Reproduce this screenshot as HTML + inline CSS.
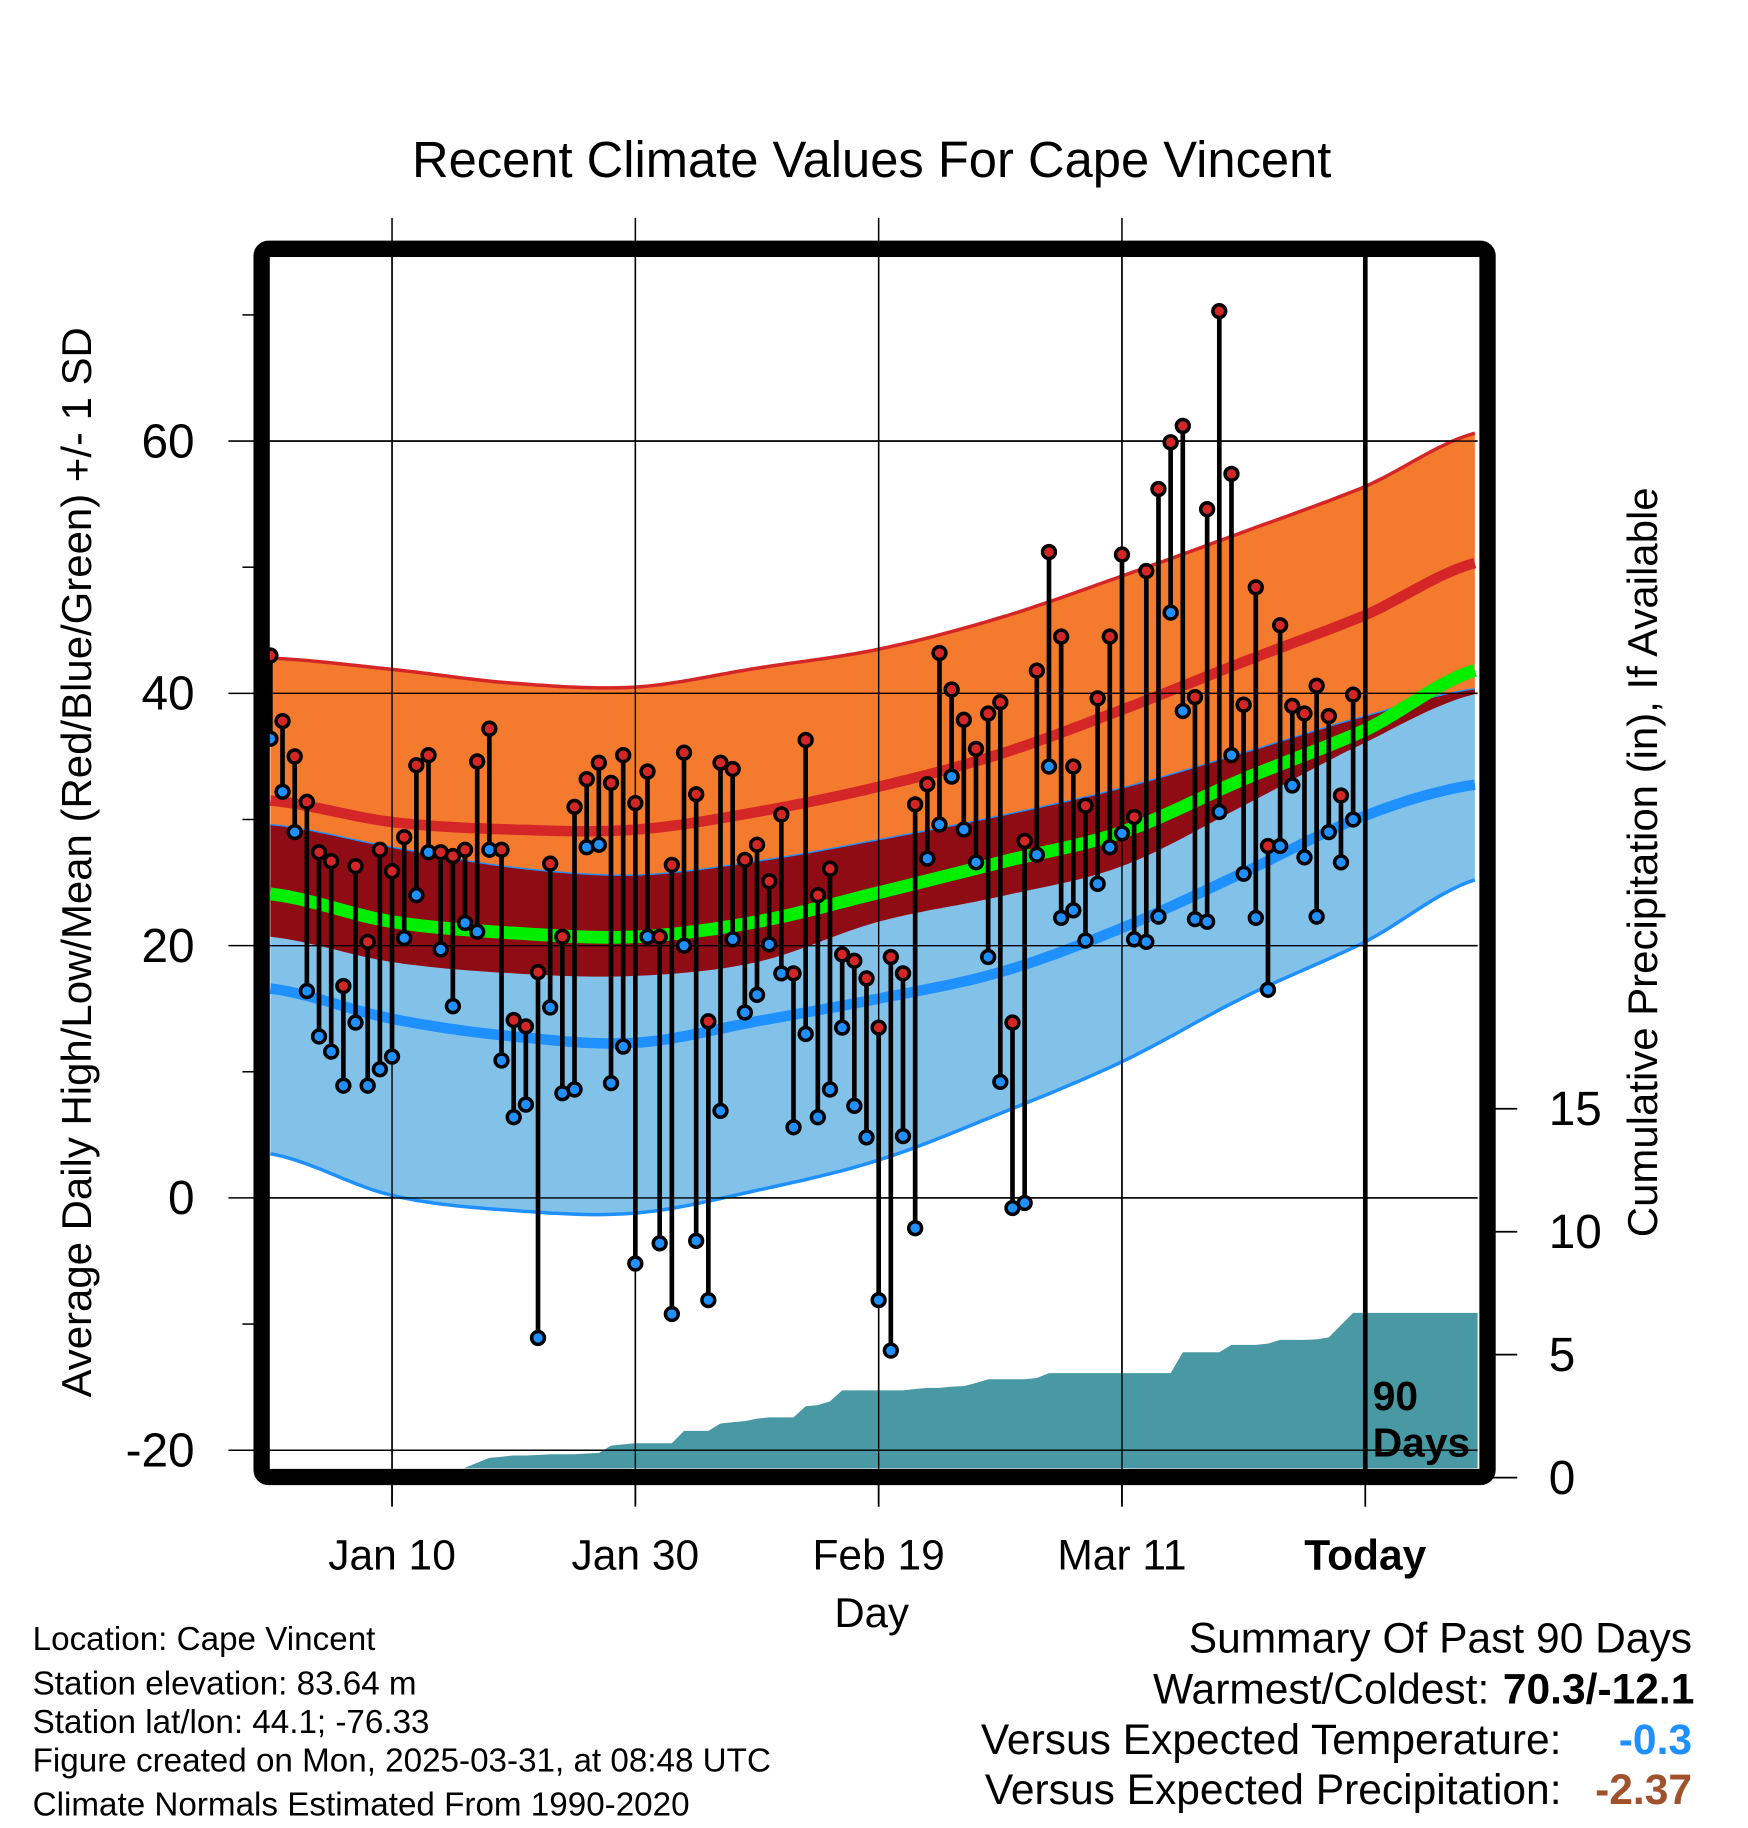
<!DOCTYPE html>
<html><head><meta charset="utf-8"><style>
html,body{margin:0;padding:0;background:#fff;}
svg{display:block;font-family:"Liberation Sans",Arial,sans-serif;}
</style></head><body>
<svg id="chart" width="1748" height="1828" viewBox="0 0 1500 1568.7" xmlns="http://www.w3.org/2000/svg">
<defs><clipPath id="plotclip"><rect x="231" y="220" width="1037" height="1040"/></clipPath></defs>
<rect x="0" y="0" width="1500" height="1569" fill="#fff"/>
<text x="748" y="152" font-size="43.5" text-anchor="middle">Recent Climate Values For Cape Vincent</text>
<g id="grid"></g>
<g id="bands" clip-path="url(#plotclip)"></g>
<g id="precip" clip-path="url(#plotclip)"></g>
<g id="grid2" clip-path="url(#plotclip)"></g>
<g id="obs"></g>
<rect x="224.5" y="213.5" width="1052" height="1054" rx="6" fill="none" stroke="#000" stroke-width="14"/>
<g id="axes"></g>
<text x="1178" y="1210" font-size="35" font-weight="bold">90</text>
<text x="1178" y="1250" font-size="35" font-weight="bold">Days</text>
<text x="748" y="1396" font-size="36" text-anchor="middle">Day</text>
<text transform="translate(78,740) rotate(-90)" font-size="36" text-anchor="middle">Average Daily High/Low/Mean (Red/Blue/Green) +/- 1 SD</text>
<text transform="translate(1422,740) rotate(-90)" font-size="36" text-anchor="middle">Cumulative Precipitation (in), If Available</text>
<g font-size="28.5">
<text x="28" y="1416">Location: Cape Vincent</text>
<text x="28" y="1454">Station elevation: 83.64 m</text>
<text x="28" y="1487">Station lat/lon: 44.1; -76.33</text>
<text x="28" y="1520">Figure created on Mon, 2025-03-31, at 08:48 UTC</text>
<text x="28" y="1558">Climate Normals Estimated From 1990-2020</text>
</g>
<g font-size="36.5">
<text x="1452" y="1418" text-anchor="end">Summary Of Past 90 Days</text>
<text x="1278" y="1462" text-anchor="end">Warmest/Coldest:</text>
<text x="1454" y="1462" text-anchor="end" font-weight="bold">70.3/-12.1</text>
<text x="1340" y="1505" text-anchor="end">Versus Expected Temperature:</text>
<text x="1452" y="1505" text-anchor="end" font-weight="bold" fill="#1e90ff">-0.3</text>
<text x="1340" y="1548" text-anchor="end">Versus Expected Precipitation:</text>
<text x="1452" y="1548" text-anchor="end" font-weight="bold" fill="#a0522d">-2.37</text>
</g>
</svg>
<script>
var highs=[43,37.8,35,31.4,27.4,26.7,16.8,26.3,20.3,27.6,25.9,28.6,34.3,35.1,27.4,27.1,27.6,34.6,37.2,27.6,14.1,13.6,17.9,26.5,20.7,31,33.2,34.5,32.9,35.1,31.3,33.8,20.7,26.4,35.3,32,14,34.5,34,26.8,28,25.1,30.4,17.8,36.3,24,26.1,19.3,18.8,17.4,13.5,19.1,17.8,31.2,32.8,43.2,40.3,37.9,35.6,38.4,39.3,13.9,28.3,41.8,51.2,44.5,34.2,31.1,39.6,44.5,51,30.2,49.7,56.2,59.9,61.2,39.7,54.6,70.3,57.4,39.1,48.4,27.9,45.4,39,38.4,40.6,38.2,31.9,39.9];
var lows=[36.4,32.2,29,16.4,12.8,11.6,8.9,13.9,8.9,10.2,11.2,20.6,24,27.4,19.7,15.2,21.8,21.1,27.6,10.9,6.4,7.4,-11.1,15.1,8.3,8.6,27.8,28,9.1,12,-5.2,20.7,-3.6,-9.2,20,-3.4,-8.1,6.9,20.5,14.7,16.1,20.1,17.8,5.6,13,6.4,8.6,13.5,7.3,4.8,-8.1,-12.1,4.9,-2.4,26.9,29.6,33.4,29.2,26.6,19.1,9.2,-0.8,-0.4,27.2,34.2,22.2,22.8,20.4,24.9,27.8,28.9,20.5,20.3,22.3,46.4,38.6,22.1,21.9,30.6,35.1,25.7,22.2,16.5,27.9,32.7,27,22.3,29,26.6,30];
var precip=[0,0,0,0,0,0,0,0,0,0,0,0,0,0,0,0,0.4,0.6,0.8,0.85,0.9,0.9,0.92,0.95,0.95,0.95,0.98,1.0,1.3,1.35,1.4,1.4,1.4,1.4,1.9,1.9,1.9,2.2,2.25,2.3,2.4,2.45,2.45,2.45,2.9,2.95,3.1,3.55,3.55,3.55,3.55,3.55,3.55,3.6,3.65,3.65,3.7,3.72,3.85,4.0,4.0,4.0,4.0,4.05,4.25,4.25,4.25,4.25,4.25,4.25,4.25,4.25,4.25,4.25,4.25,5.1,5.1,5.1,5.1,5.4,5.4,5.4,5.45,5.6,5.6,5.6,5.62,5.7,6.2,6.7];
var normDays=[0,10,20,30,40,50,60,70,80,90,99.3];
var highPlusSD=[42.8,41.9,40.8,40.5,42,43.5,46,49.3,52.8,56.4,60.7];
var highMean=[31.5,29.8,29.2,29.2,30.6,32.6,35.2,38.7,42.5,46.2,50.4];
var highMinusSD=[20.7,18.7,17.8,17.6,18.7,21.9,23.9,26.3,31.1,36.1,40];
var meanTemp=[24.1,21.9,21,20.7,21.9,24.2,26.6,29,33.2,37.1,41.9];
var lowPlusSD=[29.6,27.8,26.2,25.6,26.7,28.4,30.3,32.5,35.3,38.2,40.4];
var lowMean=[16.6,14.2,12.8,12.3,14,15.8,17.9,21.4,25.8,30.3,32.8];
var lowMinusSD=[3.5,0.2,-1,-1.2,0.6,3,6.7,10.8,15.9,20.3,25.3];
var xTickDays=[10,30,50,70,90];
var xTickLabels=["Jan 10","Jan 30","Feb 19","Mar 11","Today"];
var yTicks=[60,40,20,0,-20];
var yMinor=[70,50,30,10,-10];
var pTicks=[0,5,10,15];

var NS="http://www.w3.org/2000/svg";
function X(d){return 232+10.44*d;}
function Y(v){return 1028-10.825*v;}
function P(v){return 1268-21.1*v;}
function mk(tag,attrs,parent){var e=document.createElementNS(NS,tag);for(var k in attrs)e.setAttribute(k,attrs[k]);parent.appendChild(e);return e;}
function interp(arr,d){for(var i=0;i<normDays.length-1;i++){if(d<=normDays[i+1]){var t=(d-normDays[i])/(normDays[i+1]-normDays[i]);
 var p0=arr[Math.max(i-1,0)],p1=arr[i],p2=arr[i+1],p3=arr[Math.min(i+2,arr.length-1)];
 var t2=t*t,t3=t2*t;return 0.5*((2*p1)+(-p0+p2)*t+(2*p0-5*p1+4*p2-p3)*t2+(-p0+3*p1-3*p2+p3)*t3);}}return arr[arr.length-1];}
function pts(arr){var s=[];for(var d=0;d<=99.3;d+=0.5){s.push(X(d).toFixed(1)+","+Y(interp(arr,d)).toFixed(1));}return s;}
function line(arr){return "M"+pts(arr).join("L");}
function band(a,b){var p=pts(a),q=pts(b).reverse();return "M"+p.join("L")+"L"+q.join("L")+"Z";}

var grid=document.getElementById('grid'),grid2=document.getElementById('grid2'),bands=document.getElementById('bands'),axes=document.getElementById('axes'),obs=document.getElementById('obs'),pr=document.getElementById('precip');
xTickDays.forEach(function(d,i){
 if(i<4){var g=mk('line',{x1:X(d),x2:X(d),y1:187,y2:1290,stroke:'#000','stroke-width':1.3},grid);
 
 }
 var t=mk('line',{x1:X(d),x2:X(d),y1:1270,y2:1293,stroke:'#000','stroke-width':1.5},axes);
 
 
 var tx=mk('text',{x:X(d),y:1347,'font-size':36.5,'text-anchor':'middle'},axes);
 tx.textContent=xTickLabels[i];
 if(i==4)tx.setAttribute('font-weight','bold');
 
 
});
yTicks.forEach(function(v){
 var g=mk('line',{x1:196,x2:1268,y1:Y(v),y2:Y(v),stroke:'#000','stroke-width':1.3},grid);
 
 
 var g2=mk('line',{x1:231,x2:1268,y1:Y(v),y2:Y(v),stroke:'#000','stroke-width':1.2},grid2);
 
 
 var t=mk('text',{x:167,y:Y(v)+14,'font-size':41,'text-anchor':'end'},axes);
 t.textContent=v;
 
 
});
xTickDays.forEach(function(d,i){if(i<4){var g=mk('line',{x1:X(d),x2:X(d),y1:220,y2:1260,stroke:'#000','stroke-width':1.2},grid2);
 
 }});
yMinor.forEach(function(v){
 var t=mk('line',{x1:208,x2:220,y1:Y(v),y2:Y(v),stroke:'#000','stroke-width':1.3},axes);
 
 
});
pTicks.forEach(function(v){
 var t=mk('line',{x1:1280,x2:1302,y1:P(v),y2:P(v),stroke:'#000','stroke-width':1.5},axes);
 
 
 var tx=mk('text',{x:1329,y:P(v)+14,'font-size':41},axes);
 tx.textContent=v;
 
 
});
var b1=mk('path',{d:band(highPlusSD,highMinusSD),fill:'#f47a2e'},bands);


var b2=mk('path',{d:band(lowPlusSD,lowMinusSD),fill:'#82c1e8'},bands);


var b3=mk('path',{d:band(lowPlusSD,highMinusSD),fill:'#900c14'},bands);


var l1=mk('path',{d:line(highPlusSD),fill:'none',stroke:'#d42626','stroke-width':3},bands);


var l2=mk('path',{d:line(lowPlusSD),fill:'none',stroke:'#1e90ff','stroke-width':1.2},bands);


var l3=mk('path',{d:line(lowMinusSD),fill:'none',stroke:'#1e90ff','stroke-width':3},bands);


var l4=mk('path',{d:line(highMean),fill:'none',stroke:'#d42626','stroke-width':9},bands);


var l5=mk('path',{d:line(meanTemp),fill:'none',stroke:'#00ee00','stroke-width':11},bands);


var l6=mk('path',{d:line(lowMean),fill:'none',stroke:'#1e90ff','stroke-width':9},bands);


var pp=["M"+X(0)+",1270"];
for(var i=0;i<precip.length;i++){pp.push("L"+X(i).toFixed(1)+","+P(precip[i]).toFixed(1));}
pp.push("L1270,"+P(precip[precip.length-1]).toFixed(1)+"L1270,1270Z");
var pa=mk('path',{d:pp.join(""),fill:'#4899a3'},pr);


var tl=mk('line',{x1:X(90),x2:X(90),y1:220,y2:1262,stroke:'#000','stroke-width':4},obs);


for(var i=0;i<highs.length;i++){
 var s=mk('line',{x1:X(i),x2:X(i),y1:Y(highs[i]),y2:Y(lows[i]),stroke:'#000','stroke-width':4},obs);
 
 
 var cl=mk('circle',{cx:X(i),cy:Y(lows[i]),r:5.5,fill:'#1e90ff',stroke:'#000','stroke-width':3},obs);
 
 
 var ch=mk('circle',{cx:X(i),cy:Y(highs[i]),r:5.5,fill:'#d42626',stroke:'#000','stroke-width':3},obs);
 
 
}
</script>
</body></html>
